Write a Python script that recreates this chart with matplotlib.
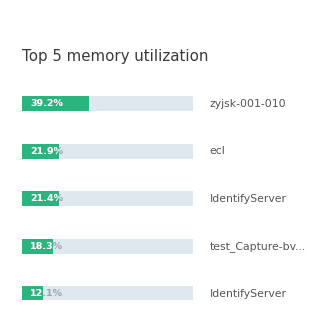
import matplotlib
matplotlib.use("Agg")
import matplotlib.pyplot as plt

names = ["zyjsk-001-010", "ecl", "IdentifyServer", "test_Capture-bv...", "IdentifyServer"]
values = [39.2, 21.9, 21.4, 18.3, 12.1]
value_labels = ["39.2%", "21.9%", "21.4%", "18.3%", "12.1%"]

W, H = 316, 311
fig = plt.figure(figsize=(W / 100, H / 100), dpi=100)
fig.patch.set_facecolor("white")

fig.text(22 / W, 1 - 57 / H, "Top 5 memory utilization", fontsize=10.8,
         color="#3a3a3a", va="center", ha="left")

top, bottom = 80, 300
ax = fig.add_axes([22 / W, 1 - bottom / H, 171 / W, (bottom - top) / H])
pos = list(range(len(values)))
ax.barh(pos, [100] * len(values), height=0.31, color="#dfe8ee", left=0)
fills = ax.barh(pos, values, height=0.31, color="#2bb57e", left=0)
ax.set_xlim(0, 100)
ax.set_ylim(4.13, -0.5)
ax.axis("off")

for i, (lab, name) in enumerate(zip(value_labels, names)):
    # gray where the label runs past the green fill, white on top of it
    ax.annotate(lab, (0, i), xytext=(6, 0), textcoords="offset points",
                va="center", ha="left", fontsize=6.8, color="#9aa5ad",
                fontweight="bold")
    t = ax.annotate(lab, (0, i), xytext=(6, 0), textcoords="offset points",
                    va="center", ha="left", fontsize=6.8, color="white",
                    fontweight="bold")
    t.set_clip_path(fills[i])
    ax.annotate(name, (100, i), xytext=(12, 0), textcoords="offset points",
                va="center", ha="left", fontsize=7.8, color="#555555",
                annotation_clip=False)

fig.savefig("out.png", dpi=100, facecolor="white")
